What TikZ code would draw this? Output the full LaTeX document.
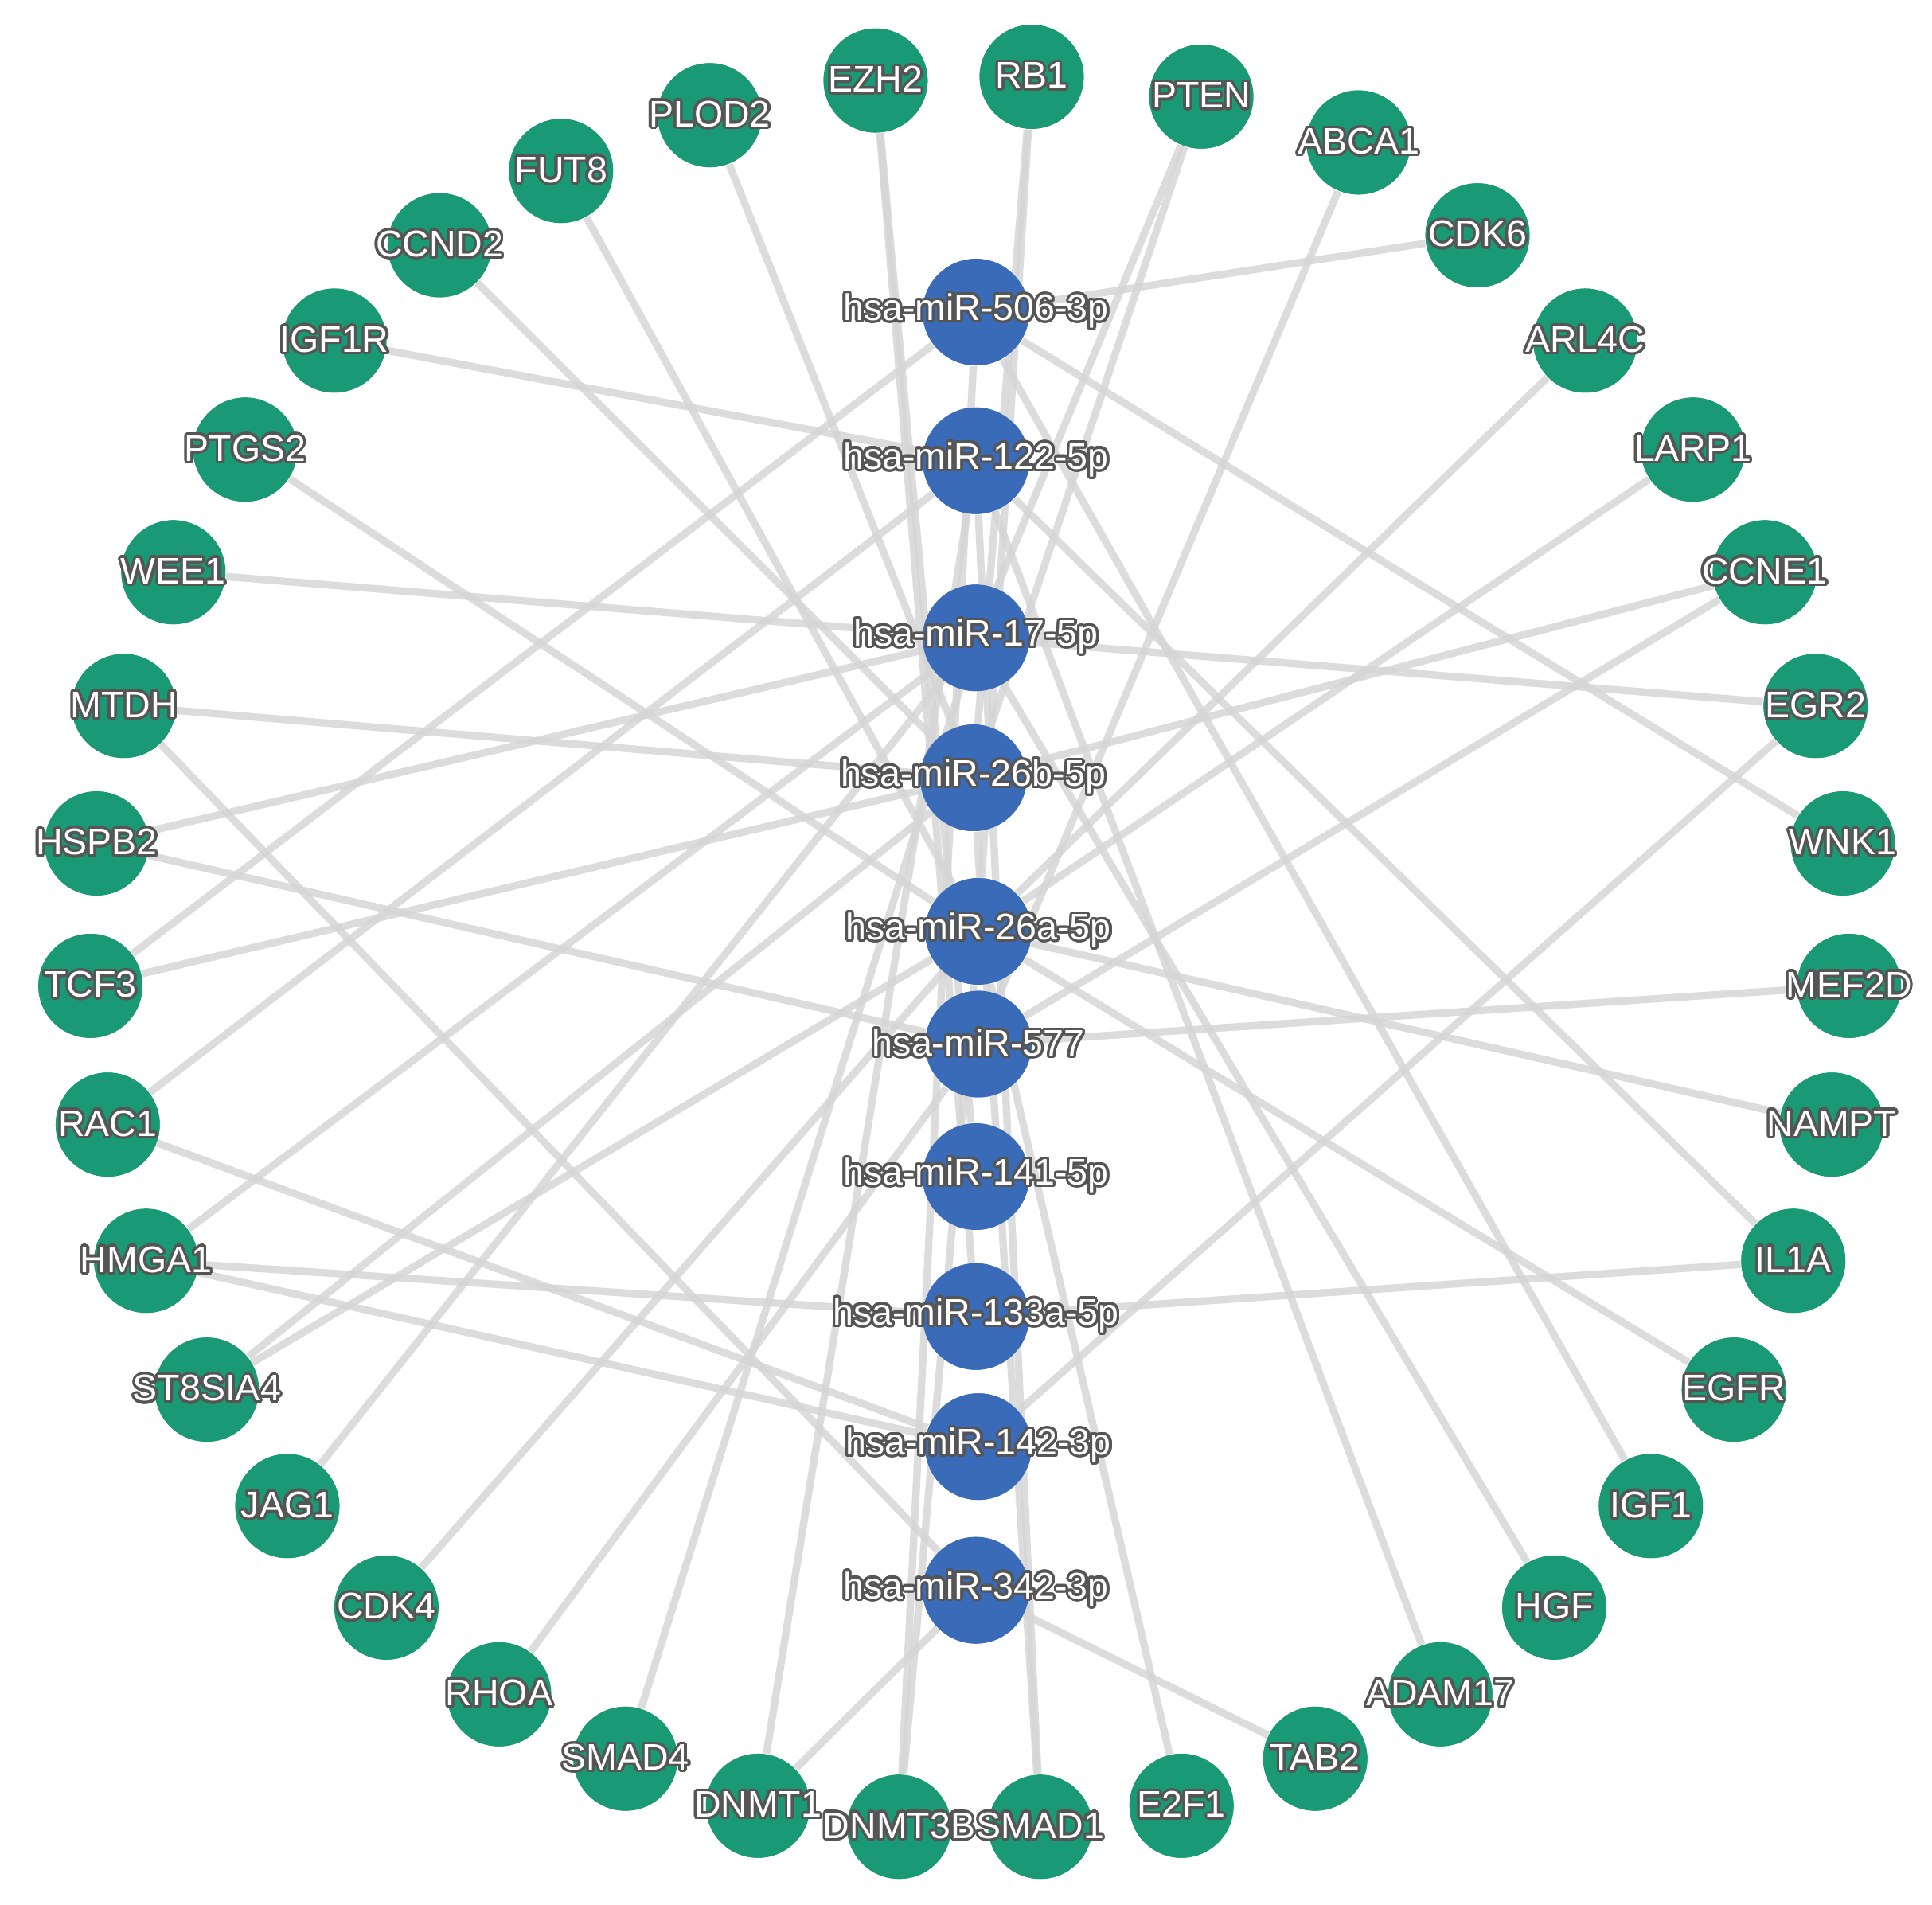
\documentclass[tikz,border=0pt]{standalone}
\usepackage{fontspec}
\setmainfont{Liberation Sans}
\usepackage{contour}
\contourlength{0.6pt}
\contournumber{24}
\definecolor{gr}{HTML}{1A9A74}
\definecolor{bl}{HTML}{3A6BB8}
\definecolor{ed}{HTML}{D6D6D6}
\definecolor{tx}{HTML}{555555}
\begin{document}
\begin{tikzpicture}[x=0.01cm,y=-0.01cm,
 g/.style={circle,fill=gr,minimum size=0.84cm,inner sep=0pt},
 b/.style={circle,fill=bl,minimum size=0.86cm,inner sep=0pt},
 e/.style={draw=ed,line width=1.7pt,opacity=0.85},
 lab/.style={font=\fontsize{8.5}{9}\selectfont,text=white,inner sep=0pt}]
\fill[white] (0,0) rectangle (1560,1538);
\foreach \n/\x/\y in {EZH2/707/65,RB1/833/62,PTEN/970/78,ABCA1/1097/115,CDK6/1193/190,ARL4C/1280/275,LARP1/1367/363,CCNE1/1425/462,EGR2/1466/570,WNK1/1488/681,MEF2D/1493/796,NAMPT/1479/908,IL1A/1448/1018,EGFR/1400/1122,IGF1/1333/1216,HGF/1255/1298,ADAM17/1163/1368,TAB2/1062/1420,E2F1/954/1458,SMAD1/840/1475,DNMT3B/726/1475,DNMT1/612/1458,SMAD4/505/1420,RHOA/403/1368,CDK4/312/1298,JAG1/232/1216,ST8SIA4/167/1122,HMGA1/118/1018,RAC1/87/908,TCF3/73/796,HSPB2/78/681,MTDH/100/570,WEE1/140/462,PTGS2/198/363,IGF1R/270/275,CCND2/355/198,FUT8/453/138,PLOD2/573/93}
 \node[g] (\n) at (\x,\y) {};
\foreach \n/\x/\y in {m506/788/252,m122/788/372,m17/788/515,m26b/786/628,m26a/790/752,m577/790/843,m141/788/950,m133/788/1063,m142/790/1168,m342/788/1284}
 \node[b] (\n) at (\x,\y) {};
\foreach \a/\b in {CDK6/m506,IGF1R/m122,WEE1/m17,PTGS2/m26a,MTDH/m26b,HSPB2/m577,HSPB2/m17,TCF3/m506,TCF3/m26b,RAC1/m122,HMGA1/m17,HMGA1/m142,ST8SIA4/m26b,ST8SIA4/m26a,JAG1/m17,CDK4/m26a,RHOA/m577,SMAD4/m17,DNMT1/m342,DNMT1/m122,DNMT3B/m506,SMAD1/m26b,DNMT3B/m26a,E2F1/m26a,TAB2/m342,ADAM17/m122,HGF/m17,IGF1/m506,EGFR/m26a,IL1A/m133,IL1A/m122,NAMPT/m26a,MEF2D/m577,WNK1/m506,EGR2/m17,EGR2/m142,CCNE1/m26b,CCNE1/m577,LARP1/m26a,ARL4C/m26a,ABCA1/m577,PTEN/m17,PTEN/m26b,RB1/m26b,RB1/m26a,EZH2/m141,EZH2/m133,PLOD2/m26b,FUT8/m26a,CCND2/m26b,MTDH/m342,RAC1/m142,HMGA1/m133,SMAD1/m122}
 \draw[e] (\a) -- (\b);
\foreach \n/\x/\y in {m506/788/252,m122/788/372,m17/788/515,m26b/786/628,m26a/790/752,m577/790/843,m141/788/950,m133/788/1063,m142/790/1168,m342/788/1284}
 \node[b] at (\x,\y) {};
\foreach \n/\x/\y in {EZH2/707/65,RB1/833/62,PTEN/970/78,ABCA1/1097/115,CDK6/1193/190,ARL4C/1280/275,LARP1/1367/363,CCNE1/1425/462,EGR2/1466/570,WNK1/1488/681,MEF2D/1493/796,NAMPT/1479/908,IL1A/1448/1018,EGFR/1400/1122,IGF1/1333/1216,HGF/1255/1298,ADAM17/1163/1368,TAB2/1062/1420,E2F1/954/1458,SMAD1/840/1475,DNMT3B/726/1475,DNMT1/612/1458,SMAD4/505/1420,RHOA/403/1368,CDK4/312/1298,JAG1/232/1216,ST8SIA4/167/1122,HMGA1/118/1018,RAC1/87/908,TCF3/73/796,HSPB2/78/681,MTDH/100/570,WEE1/140/462,PTGS2/198/363,IGF1R/270/275,CCND2/355/198,FUT8/453/138,PLOD2/573/93}
 {\node[g] at (\x,\y) {}; \node[lab] at (\x,\y) {\contour{tx}{\n}};}
\foreach \n/\t in {m506/hsa-miR-506-3p,m122/hsa-miR-122-5p,m17/hsa-miR-17-5p,m26b/hsa-miR-26b-5p,m26a/hsa-miR-26a-5p,m577/hsa-miR-577,m141/hsa-miR-141-5p,m133/hsa-miR-133a-5p,m142/hsa-miR-142-3p,m342/hsa-miR-342-3p}
 \node[lab] at (\n) {\contour{tx}{\t}};
\end{tikzpicture}
\end{document}
